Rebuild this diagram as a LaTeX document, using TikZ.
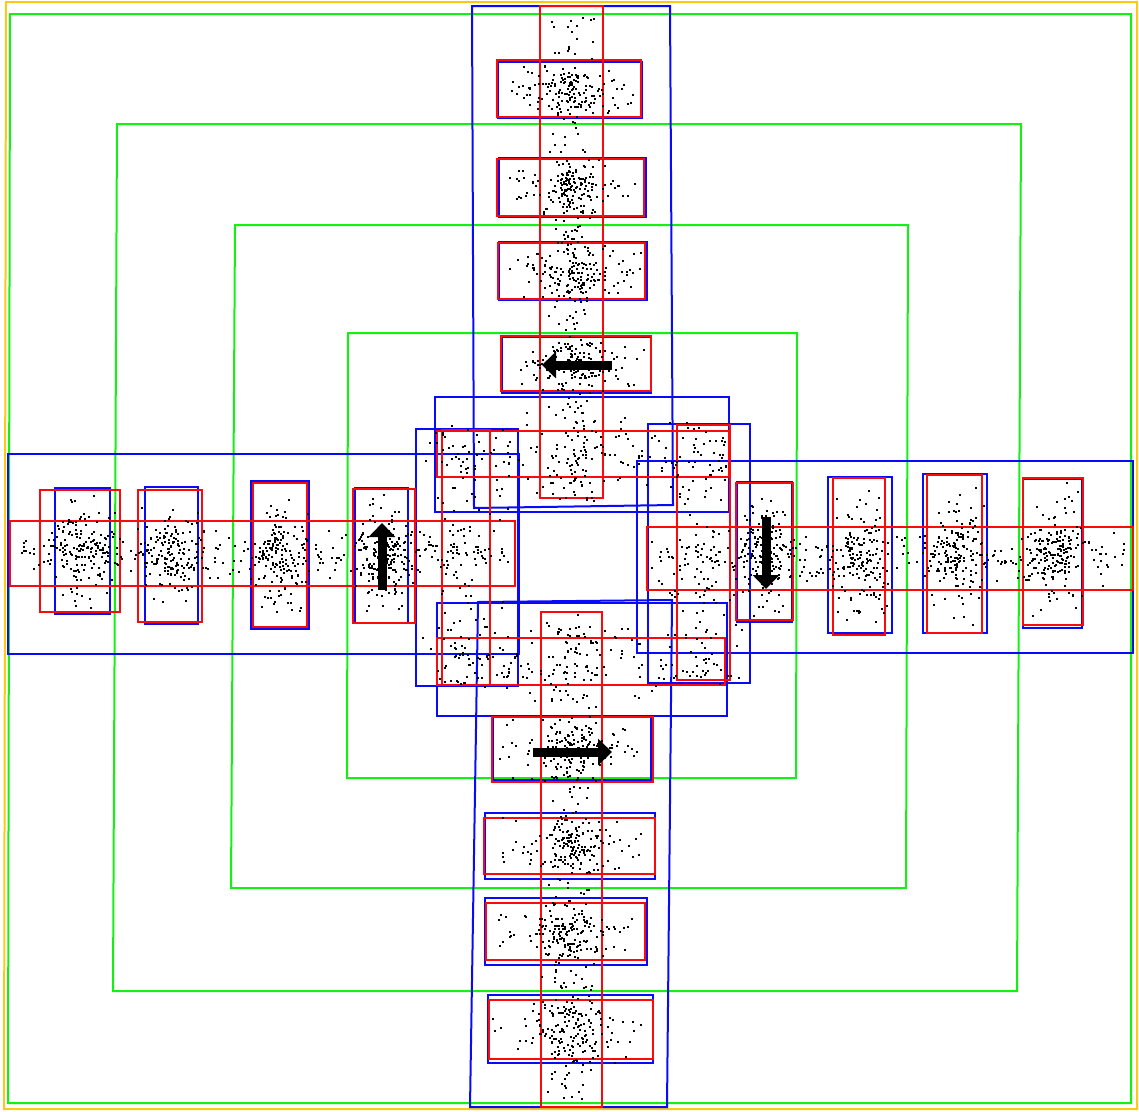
\documentclass[tikz,border=0pt]{standalone}
\usetikzlibrary{arrows.meta}
\definecolor{gr}{RGB}{20,240,20}
\definecolor{bl}{RGB}{10,10,250}
\definecolor{rd}{RGB}{250,10,10}
\definecolor{yl}{RGB}{255,200,20}
\tikzset{
  gbox/.style={draw=gr,line width=2pt},
  ybox/.style={draw=yl,line width=2pt},
  bbox/.style={draw=bl,line width=2pt},
  rbox/.style={draw=rd,line width=2pt},
  bigarrow/.style={line width=9pt,-{Triangle[length=14pt,width=26pt]}},
}
% triangular cloud: cx hx cy hy n
\newcommand\dotcloud[5]{\foreach \k in {1,...,#5}{\fill ({#1+#2*(rand+rand)/2},{#3+#4*(rand+rand)/2}) rectangle ++(2,2);}}
% vertical strip: cx hx y0 y1 n (uniform in y)
\newcommand\dotstripv[5]{\foreach \k in {1,...,#5}{\fill ({#1+#2*(rand+rand)/2},{(#3+#4)/2+(#4-#3)/2*rand}) rectangle ++(2,2);}}
% horizontal strip: cy hy x0 x1 n (uniform in x)
\newcommand\dotstriph[5]{\foreach \k in {1,...,#5}{\fill ({(#3+#4)/2+(#4-#3)/2*rand},{#1+#2*(rand+rand)/2}) rectangle ++(2,2);}}
\begin{document}
\begin{tikzpicture}[x=1pt,y=-1pt]
\useasboundingbox (0,0) rectangle (1139,1111);
\pgfmathsetseed{7}
% green frames
\draw[gbox] (10,14) -- (1131,14) -- (1131,1103) -- (8,1103) -- cycle;
\draw[gbox] (117,124) -- (1021,124) -- (1017,991) -- (113,991) -- cycle;
\draw[gbox] (235,225) -- (908,225) -- (906,888) -- (231,888) -- cycle;
\draw[gbox] (348,333) -- (797,333) -- (796,778) -- (347,778) -- cycle;
% yellow frame
\draw[ybox] (6,2) -- (1137,2) -- (1137,1109) -- (4,1109) -- cycle;
% blue large
\draw[bbox] (472,6) -- (670,6) -- (673,505) -- (474,508) -- cycle;
\draw[bbox] (478,602) -- (672,600) -- (667,1107) -- (470,1107) -- cycle;
\draw[bbox] (8,454) rectangle (519,654);
\draw[bbox] (637,461) rectangle (1133,653);
\draw[bbox] (416,429) rectangle (518,686);
\draw[bbox] (648,424) rectangle (750,683);
\draw[bbox] (435,397) rectangle (729,512);
\draw[bbox] (437,603) rectangle (727,716);
% blue boxes
\foreach \a/\b/\c/\d in {498/62/642/118, 499/158/646/217, 499/242/647/300, 502/337/651/393,
  493/716/651/780, 485/813/655/879, 485/898/647/965, 488/995/653/1063,
  55/488/110/614, 145/487/198/624, 251/481/309/629, 355/488/408/623,
  737/482/792/622, 828/477/892/633, 923/474/987/633, 1023/479/1082/628}
  \draw[bbox] (\a,\b) rectangle (\c,\d);
% red large
\draw[rbox] (540,6) rectangle (603,498);
\draw[rbox] (541,612) rectangle (602,1107);
\draw[rbox] (10,521) rectangle (515,586);
\draw[rbox] (647,527) rectangle (1133,590);
\draw[rbox] (437,431) rectangle (729,477);
\draw[rbox] (442,430) rectangle (490,685);
\draw[rbox] (437,638) rectangle (725,685);
\draw[rbox] (677,425) rectangle (730,680);
% red boxes
\foreach \a/\b/\c/\d in {497/60/641/117, 497/159/644/216, 498/243/645/299, 501/336/651/391,
  492/717/653/782, 484/818/655/874, 486/903/645/960, 489/1000/653/1059,
  40/490/120/612, 138/490/202/622, 253/483/307/627, 353/489/415/623,
  736/483/793/620, 833/478/885/635, 927/475/982/633, 1023/478/1083/625}
  \draw[rbox] (\a,\b) rectangle (\c,\d);
% dots: arms
\dotstripv{571}{30}{15}{500}{260}
\dotstripv{571}{30}{612}{1100}{260}
\dotstriph{553}{30}{20}{515}{260}
\dotstriph{557}{30}{650}{1125}{260}
% central bars
\dotstriph{454}{44}{440}{726}{130}
\dotstripv{466}{46}{432}{683}{110}
\dotstriph{661}{44}{440}{722}{130}
\dotstripv{703}{48}{428}{678}{110}
% vertical-arm boxes
\foreach \cx/\hw/\cy/\hh in {570/72/89/28, 571/73/187/29, 572/74/271/29, 576/75/364/28,
  572/79/749/32, 570/85/846/32, 566/81/931/33, 570/82/1029/33}{
  \dotcloud{\cx}{\hw}{\cy}{\hh}{90}
  \dotcloud{\cx}{30}{\cy}{\hh}{50}
}
% horizontal-arm boxes
\foreach \cx/\hw/\cy/\hh in {82/40/551/62, 170/32/555/67, 280/28/555/72, 383/30/556/67,
  765/28/552/69, 860/30/556/78, 955/30/554/79, 1053/30/552/74}{
  \dotcloud{\cx}{\hw}{\cy}{\hh}{90}
  \dotcloud{\cx}{\hw}{\cy}{30}{50}
}
% arrows
\coordinate (u1) at (612,365); \coordinate (u2) at (542,365);
\coordinate (d1) at (533,752); \coordinate (d2) at (612,752);
\coordinate (l1) at (382,590); \coordinate (l2) at (382,523);
\coordinate (r1) at (766,517); \coordinate (r2) at (766,589);
\draw[bigarrow] (u1) -- (u2);
\draw[bigarrow] (d1) -- (d2);
\draw[bigarrow] (l1) -- (l2);
\draw[bigarrow] (r1) -- (r2);
\end{tikzpicture}
\end{document}
